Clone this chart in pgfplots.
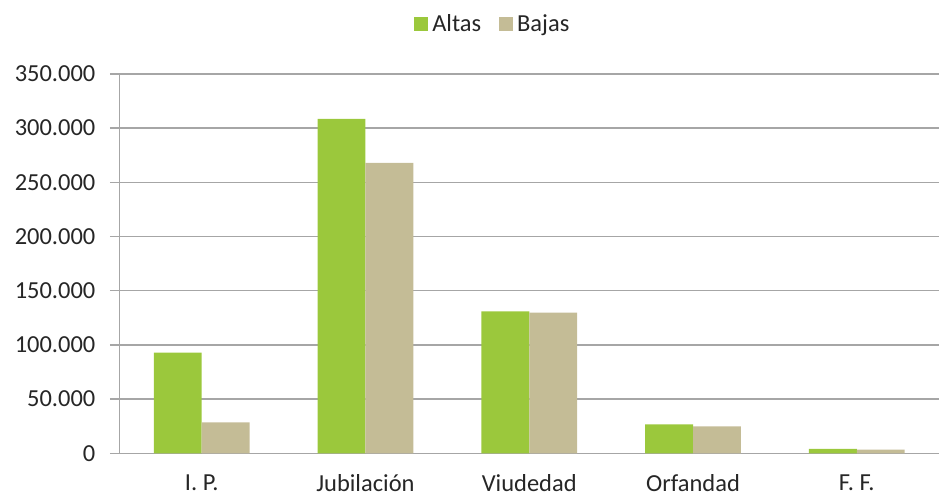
\documentclass[border=0pt]{standalone}
\usepackage{fontspec}
\setmainfont{Carlito}
\usepackage{pgfplots}
\pgfplotsset{compat=1.18}
\definecolor{Altas}{HTML}{9BC83C}
\definecolor{Bajas}{HTML}{C4BC96}
\definecolor{GridGray}{HTML}{A6A6A6}
\definecolor{TextGray}{HTML}{262626}
\begin{document}
\begin{tikzpicture}
\begin{axis}[
  at={(0,0)}, anchor=south west,
  scale only axis, width=820pt, height=380pt,
  ybar=0pt, bar width=0.2927,
  xmin=-0.5, xmax=4.5, ymin=0, ymax=350000,
  xtick={0,1,2,3,4},
  xticklabels={I. P., Jubilación, Viudedad, Orfandad, F. F.},
  x tick style={draw=none},
  extra x ticks={-0.5,0.5,1.5,2.5,3.5,4.5},
  extra x tick labels={},
  extra x tick style={major tick length=8pt, tick align=outside, tick style={draw=GridGray, line width=1.3pt}, grid=none},
  ytick={0,50000,...,350000},
  scaled y ticks=false,
  /pgf/number format/fixed,
  /pgf/number format/1000 sep={.},
  /pgf/number format/assume math mode=true,
  y tick style={draw=GridGray, line width=1.3pt},
  major tick length=10pt, tick align=outside,
  axis x line*=bottom, axis y line*=left,
  axis line style={draw=GridGray, line width=1.3pt, -},
  ymajorgrids, grid style={draw=GridGray, line width=1.3pt},
  tick label style={font=\fontsize{24.5}{28}\selectfont, text=TextGray},
  xticklabel style={yshift=-8pt},
  yticklabel style={xshift=-11pt},
  legend columns=2,
  legend style={at={(0.4555,1.132)}, anchor=center, draw=none, fill=none,
    font=\fontsize{24.5}{28}\selectfont, text=TextGray,
    /tikz/every odd column/.append style={column sep=2pt},
    /tikz/every even column/.append style={column sep=16pt}},
  legend image code/.code={\fill[#1] (0pt,-7pt) rectangle (14pt,7pt);},
]
\addplot[fill=Altas, draw=none] coordinates {(0,93000) (1,308500) (2,131000) (3,26700) (4,4100)};
\addlegendentry{Altas}
\addplot[fill=Bajas, draw=none] coordinates {(0,28500) (1,268000) (2,129800) (3,24900) (4,3400)};
\addlegendentry{Bajas}
\end{axis}
\useasboundingbox (-120pt,-43pt) rectangle (822pt,454pt);
\end{tikzpicture}
\end{document}
